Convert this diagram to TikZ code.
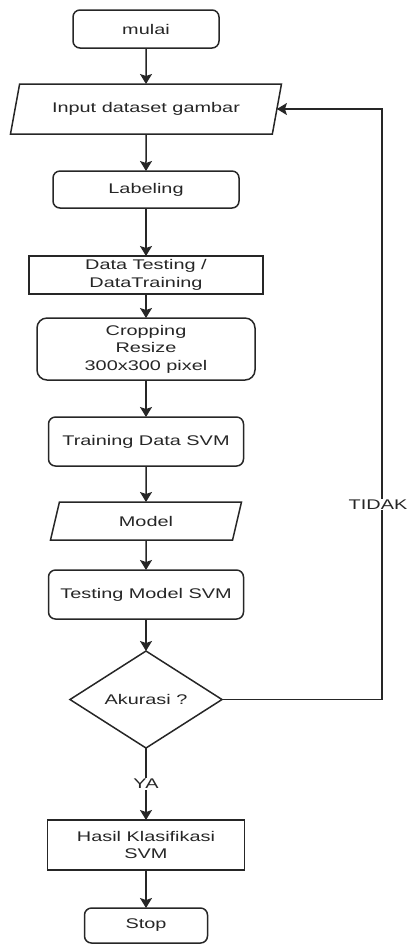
\documentclass[tikz,border=0pt]{standalone}
\usepackage{fontspec}
\setmainfont{Liberation Sans}[FakeStretch=1.42]
\usetikzlibrary{shapes.geometric}
\usetikzlibrary{arrows.meta}
\usetikzlibrary{positioning}

\begin{document}
\begin{tikzpicture}[x=1pt,y=-1pt,
    every node/.style={font=\fontsize{14}{17.5}\selectfont,text=black!85,align=center,
        inner sep=0pt,outer sep=0pt,line width=1.5pt,draw=black!85},
    proses/.style={rounded corners=7pt},
    kotak/.style={rectangle},
    io/.style={trapezium,trapezium stretches body},
    keputusan/.style={diamond},
    label/.style={draw=none,fill=white,inner sep=1pt},
    flow/.style={line width=1.5pt,draw=black!85,-{Stealth[length=10pt,width=12pt,inset=2pt]}}]
    \useasboundingbox (0,0) rectangle (408,945);

    \node (mulai) [proses,minimum width=146pt,minimum height=38pt] at (146,29) {mulai};
    \node (input) [io,below=36pt of mulai,trapezium left angle=55,trapezium right angle=125,
        minimum width=271pt,minimum height=50pt] {Input dataset gambar};
    \node (labeling) [proses,below=37pt of input,minimum width=186pt,minimum height=37pt] {Labeling};
    \node (data) [kotak,below=48pt of labeling,minimum width=234pt,minimum height=38pt]
        {Data Testing /\\DataTraining};
    \node (cropping) [proses,rounded corners=10pt,below=24pt of data,minimum width=218pt,minimum height=62pt]
        {Cropping\\Resize\\300x300 pixel};
    \node (training) [proses,below=37pt of cropping,minimum width=195pt,minimum height=49pt] {Training Data SVM};
    \node (model) [io,below=36pt of training,trapezium left angle=49,trapezium right angle=131,
        minimum width=191pt,minimum height=38pt] {Model};
    \node (testing) [proses,below=30pt of model,minimum width=195pt,minimum height=49pt] {Testing Model SVM};
    \node (akurasi) [keputusan,below=32pt of testing,minimum width=152pt,minimum height=97pt] {Akurasi ?};
    \node (hasil) [kotak,below=72pt of akurasi,minimum width=197pt,minimum height=50pt]
        {Hasil Klasifikasi\\SVM};
    \node (stop) [proses,below=38pt of hasil,minimum width=123pt,minimum height=35pt] {Stop};
    \coordinate (balik) at (382,0);

    \draw [flow] (mulai) -- (input);
    \draw [flow] (input) -- (labeling);
    \draw [flow] (labeling) -- (data);
    \draw [flow] (data) -- (cropping);
    \draw [flow] (cropping) -- (training);
    \draw [flow] (training) -- (model);
    \draw [flow] (model) -- (testing);
    \draw [flow] (testing) -- (akurasi);
    \draw [flow] (akurasi) -- (hasil) node [label,midway] {YA};
    \draw [flow] (akurasi.east) -- (akurasi.east -| balik) -- (input.east -| balik)
        node [label,pos=0.33,xshift=-4pt] {TIDAK} -- (input.east);
    \draw [flow] (hasil) -- (stop);
\end{tikzpicture}
\end{document}
